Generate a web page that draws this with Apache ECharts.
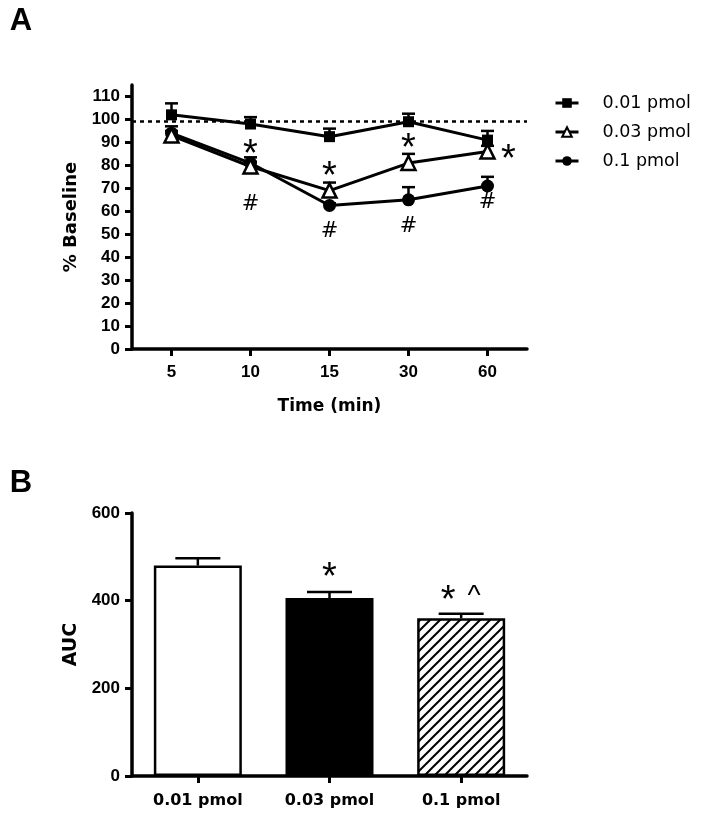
<!DOCTYPE html>
<html><head><meta charset="utf-8">
<script src="https://cdn.jsdelivr.net/npm/echarts@6/dist/echarts.min.js"></script>
<style>html,body{margin:0;padding:0;background:#fff}#c{width:703px;height:816px}</style>
</head><body><div id="c"></div>
<script>
// ---- Panel A data ----
const timeCats = ['5', '10', '15', '30', '60'];
const pctTicks = [0, 10, 20, 30, 40, 50, 60, 70, 80, 90, 100, 110];
const seriesNames = ['0.01 pmol', '0.03 pmol', '0.1 pmol'];
const sqVals = [102, 98, 92.5, 99, 91];
const sqErr = [5, 3, 3.5, 3.5, 4];
const triVals = [93, 79.5, 69, 81, 86];
const triErr = [2, 2, 3.5, 4, 2.5];
const cirVals = [94, 81, 62.5, 65, 71];
const cirErr = [3, 2.5, 1, 5.5, 4];
const baselineValue = 99;
const starAnnA = [[1, 88], [2, 78.6], [3, 91]];
const starRightAnnA = [[4, 86]];
const hashAnnA = [[1, 63], [2, 51], [3, 53.5], [4, 64]];
// ---- Panel B data ----
const doseCats = ['0.01 pmol', '0.03 pmol', '0.1 pmol'];
const aucVals = [480, 406, 360];
const aucErr = [17, 14, 10];
const aucTicks = [0, 200, 400, 600];
const aucAnn = [[1, 470, '*'], [2, 418, '* ^']];

const FONT = 'Liberation Sans, Arial, sans-serif';
const WIDE = 'DejaVu Sans, sans-serif';

// hatch pattern
const pc = document.createElement('canvas');
pc.width = 10; pc.height = 10;
const g = pc.getContext('2d');
g.fillStyle = '#fff'; g.fillRect(0, 0, 10, 10);
g.strokeStyle = '#000'; g.lineWidth = 2;
g.beginPath();
g.moveTo(-2, 12); g.lineTo(12, -2);
g.moveTo(-2, 2); g.lineTo(2, -2);
g.moveTo(8, 12); g.lineTo(12, 8);
g.stroke();
const barFills = ['#fff', '#000', { image: pc, repeat: 'repeat' }];

function errSeries(xi, yi, vals, errs, capW, lw) {
  return {
    type: 'custom', xAxisIndex: xi, yAxisIndex: yi, silent: true, z: 1,
    data: vals.map((v, i) => [i, v, v + errs[i]]),
    renderItem(params, api) {
      const a = api.coord([api.value(0), api.value(1)]);
      const b = api.coord([api.value(0), api.value(2)]);
      return { type: 'group', children: [
        { type: 'line', shape: { x1: a[0], y1: a[1], x2: b[0], y2: b[1] }, style: { stroke: '#000', lineWidth: lw } },
        { type: 'line', shape: { x1: b[0] - capW / 2, y1: b[1], x2: b[0] + capW / 2, y2: b[1] }, style: { stroke: '#000', lineWidth: lw } }
      ] };
    }
  };
}
const glyphFont = { '*': '38px ' + FONT, '#': '21px ' + WIDE, '^': '28px ' + FONT };
const glyphDy = { '*': 9, '#': 0, '^': 4 };
function textSeries(xi, yi, data, getText, dx) {
  return {
    type: 'custom', xAxisIndex: xi, yAxisIndex: yi, silent: true, z: 10,
    data: data.map(d => [d[0], d[1]]),
    renderItem(params, api) {
      const p = api.coord([api.value(0), api.value(1)]);
      const toks = getText(params.dataIndex).split(' ');
      const gap = 26;
      const x0 = p[0] + dx - (toks.length - 1) * gap / 2;
      return { type: 'group', children: toks.map((t, k) => ({
        type: 'text', x: x0 + k * gap, y: p[1] + glyphDy[t],
        style: { text: t, font: glyphFont[t], fill: '#000', align: 'center', verticalAlign: 'middle' }
      })) };
    }
  };
}

const axisLine = { show: true, lineStyle: { color: '#000', width: 3.5 } };
const axisTick = { show: true, length: 7, lineStyle: { color: '#000', width: 3 } };
const numLabel = { color: '#000', fontSize: 17, fontWeight: 'bold', fontFamily: FONT };
const catLabel = { color: '#000', fontSize: 16, fontWeight: 'bold', fontFamily: WIDE };
const nameStyle = { color: '#000', fontSize: 18, fontWeight: 'bold', fontFamily: WIDE };

const chart = echarts.init(document.getElementById('c'), null, { renderer: 'canvas' });
chart.setOption({
  animation: false,
  backgroundColor: '#fff',
  graphic: [
    { type: 'text', x: 21, y: 21, style: { text: 'A', font: 'bold 31px ' + FONT, fill: '#000', align: 'center', verticalAlign: 'middle' } },
    { type: 'text', x: 21, y: 483, style: { text: 'B', font: 'bold 31px ' + FONT, fill: '#000', align: 'center', verticalAlign: 'middle' } }
  ],
  legend: {
    orient: 'vertical', left: 554, top: 93, padding: 0, itemWidth: 23, itemHeight: 12, itemGap: 9,
    data: seriesNames, selectedMode: false,
    lineStyle: { width: 3, color: '#000' },
    textStyle: { color: '#000', fontSize: 17.5, fontFamily: WIDE, lineHeight: 20, padding: [0, 0, 0, 19] }
  },
  grid: [
    { left: 132, top: 85, width: 395, height: 264 },
    { left: 132, top: 513, width: 395, height: 263 }
  ],
  xAxis: [
    { type: 'category', gridIndex: 0, data: timeCats, boundaryGap: true,
      name: 'Time (min)', nameLocation: 'middle', nameGap: 49, nameTextStyle: Object.assign({}, nameStyle, { fontSize: 17 }),
      axisLine: axisLine, axisTick: Object.assign({ alignWithLabel: true }, axisTick),
      axisLabel: Object.assign({ margin: 15 }, numLabel), splitLine: { show: false } },
    { type: 'category', gridIndex: 1, data: doseCats, boundaryGap: true,
      axisLine: axisLine, axisTick: Object.assign({ alignWithLabel: true }, axisTick),
      axisLabel: Object.assign({ margin: 17 }, catLabel), splitLine: { show: false } }
  ],
  yAxis: [
    { type: 'value', gridIndex: 0, min: 0, max: 115, interval: 10,
      name: '% Baseline', nameLocation: 'middle', nameGap: 49, nameTextStyle: nameStyle,
      axisLine: axisLine, axisTick: Object.assign({ customValues: pctTicks }, axisTick),
      axisLabel: Object.assign({ margin: 12, customValues: pctTicks }, numLabel), splitLine: { show: false } },
    { type: 'value', gridIndex: 1, min: 0, max: 600, interval: 200,
      name: 'AUC', nameLocation: 'middle', nameGap: 49, nameTextStyle: Object.assign({}, nameStyle, { fontSize: 19 }),
      axisLine: axisLine, axisTick: Object.assign({ customValues: aucTicks }, axisTick),
      axisLabel: Object.assign({ margin: 12, customValues: aucTicks }, numLabel), splitLine: { show: false } }
  ],
  series: [
    errSeries(0, 0, sqVals, sqErr, 13, 2.5),
    errSeries(0, 0, triVals, triErr, 13, 2.5),
    errSeries(0, 0, cirVals, cirErr, 13, 2.5),
    { name: seriesNames[0], type: 'line', xAxisIndex: 0, yAxisIndex: 0, data: sqVals, z: 5,
      symbol: 'rect', symbolSize: 11, showSymbol: true,
      lineStyle: { color: '#000', width: 3 }, itemStyle: { color: '#000' },
      markLine: { silent: true, symbol: 'none', label: { show: false },
        lineStyle: { color: '#000', width: 2.5, type: [4, 4] }, data: [{ yAxis: baselineValue }] } },
    { name: seriesNames[1], type: 'line', xAxisIndex: 0, yAxisIndex: 0, data: triVals, z: 4,
      symbol: 'triangle', symbolSize: 14, showSymbol: true,
      lineStyle: { color: '#000', width: 3 }, itemStyle: { color: '#fff', borderColor: '#000', borderWidth: 2.5 } },
    { name: seriesNames[2], type: 'line', xAxisIndex: 0, yAxisIndex: 0, data: cirVals, z: 3,
      symbol: 'circle', symbolSize: 13, showSymbol: true,
      lineStyle: { color: '#000', width: 3 }, itemStyle: { color: '#000' } },
    textSeries(0, 0, starAnnA, () => '*', 0),
    textSeries(0, 0, starRightAnnA, () => '*', 21),
    textSeries(0, 0, hashAnnA, () => '#', 0),
    { type: 'bar', xAxisIndex: 1, yAxisIndex: 1, barWidth: 88, z: 2,
      data: aucVals.map((v, i) => ({ value: v, itemStyle: { color: barFills[i], borderColor: '#000', borderWidth: 2.5 } })) },
    errSeries(1, 1, aucVals, aucErr, 45, 2.5),
    textSeries(1, 1, aucAnn, i => aucAnn[i][2], 0)
  ]
});
</script></body></html>
